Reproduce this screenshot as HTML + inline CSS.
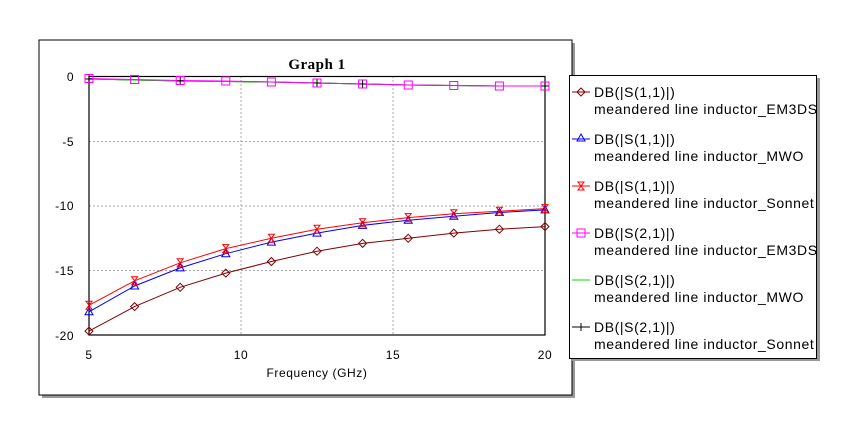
<!DOCTYPE html>
<html><head><style>body{margin:0;background:#fff}svg{display:block}</style></head><body>
<svg width="864" height="439" xmlns="http://www.w3.org/2000/svg" font-family="Liberation Sans, sans-serif">
<rect x="42" y="43" width="533" height="355" fill="#999"/>
<rect x="39" y="40" width="533" height="355" fill="#fff" stroke="#000" stroke-width="1"/>
<text x="317" y="69" font-family="Liberation Serif, serif" font-weight="bold" font-size="15" letter-spacing="0.5" text-anchor="middle">Graph 1</text>
<g stroke="#aaa" stroke-dasharray="2,2" stroke-width="1">
<line x1="241" y1="76" x2="241" y2="335"/><line x1="393" y1="76" x2="393" y2="335"/>
<line x1="89" y1="141.5" x2="545" y2="141.5"/><line x1="89" y1="206" x2="545" y2="206"/><line x1="89" y1="270.5" x2="545" y2="270.5"/>
</g>
<rect x="89" y="76.5" width="456" height="258.5" fill="none" stroke="#000" stroke-width="1.2"/>
<g font-size="12" text-anchor="end" letter-spacing="0.5"><text x="74" y="81">0</text><text x="74" y="146">-5</text><text x="74" y="210">-10</text><text x="74" y="275">-15</text><text x="74" y="340">-20</text></g>
<g font-size="12" text-anchor="middle" letter-spacing="0.6"><text x="89" y="359">5</text><text x="241" y="359">10</text><text x="393" y="359">15</text><text x="545" y="359">20</text>
<text x="317" y="377">Frequency (GHz)</text></g>
<defs>
<path id="dm" d="M0,-4 L4,0 L0,4 L-4,0Z" fill="none" stroke="#800000"/>
<path id="tr" d="M0,-4 L4,3 L-4,3Z" fill="none" stroke="#0000ff"/>
<path id="hg" d="M-3,-4 H3 L-3,4 H3Z" fill="none" stroke="#ff0000"/>
<rect id="sq" x="-4" y="-4" width="8" height="8" fill="none" stroke="#ff00ff"/>
<path id="pl" d="M-4,0 H4 M0,-4 V4" stroke="#000"/>
</defs>
<polyline fill="none" stroke="#000" points="89,79 134.6,80 180.2,81 225.8,81.5 271.4,82 317,83 362.6,84 408.2,85 453.8,85.5 499.4,86 545,86"/>
<polyline fill="none" stroke="#00dd00" points="89,79 134.6,80 180.2,81 225.8,81.5 271.4,82 317,83 362.6,84 408.2,85 453.8,85.5 499.4,86 545,86"/>
<polyline fill="none" stroke="#ff00ff" points="89,78.5 134.6,79.5 180.2,80.5 225.8,81 271.4,82 317,83 362.6,84 408.2,85 453.8,85.5 499.4,86 545,86"/>
<g><use href="#pl" x="89" y="79"/><use href="#pl" x="180.2" y="81"/><use href="#pl" x="362.6" y="84"/><use href="#pl" x="545" y="86"/><use href="#pl" x="317" y="83"/>
<use href="#sq" x="89" y="78.5"/><use href="#sq" x="134.6" y="79.5"/><use href="#sq" x="180.2" y="80.5"/><use href="#sq" x="225.8" y="81"/><use href="#sq" x="271.4" y="82"/><use href="#sq" x="317" y="83"/><use href="#sq" x="362.6" y="84"/><use href="#sq" x="408.2" y="85"/><use href="#sq" x="453.8" y="85.5"/><use href="#sq" x="499.4" y="86"/><use href="#sq" x="545" y="86"/></g>
<polyline fill="none" stroke="#800000" points="89,331.1 134.6,306.6 180.2,287.3 225.8,273.1 271.4,261.5 317,251.2 362.6,243.4 408.2,238.3 453.8,233.1 499.4,229.2 545,226.6"/>
<polyline fill="none" stroke="#0000ff" points="89,311.8 134.6,286 180.2,267.9 225.8,253.7 271.4,242.1 317,233.1 362.6,225.4 408.2,220.2 453.8,216.3 499.4,212.5 545,209.9"/>
<polyline fill="none" stroke="#ff0000" points="89,305.3 134.6,280.8 180.2,262.8 225.8,248.6 271.4,238.3 317,229.2 362.6,222.8 408.2,217.6 453.8,213.7 499.4,211.2 545,208.6"/>
<g>
<use href="#dm" x="89" y="331.1"/><use href="#dm" x="134.6" y="306.6"/><use href="#dm" x="180.2" y="287.3"/><use href="#dm" x="225.8" y="273.1"/><use href="#dm" x="271.4" y="261.5"/><use href="#dm" x="317" y="251.2"/><use href="#dm" x="362.6" y="243.4"/><use href="#dm" x="408.2" y="238.3"/><use href="#dm" x="453.8" y="233.1"/><use href="#dm" x="499.4" y="229.2"/><use href="#dm" x="545" y="226.6"/>
<use href="#tr" x="89" y="311.8"/><use href="#tr" x="134.6" y="286"/><use href="#tr" x="180.2" y="267.9"/><use href="#tr" x="225.8" y="253.7"/><use href="#tr" x="271.4" y="242.1"/><use href="#tr" x="317" y="233.1"/><use href="#tr" x="362.6" y="225.4"/><use href="#tr" x="408.2" y="220.2"/><use href="#tr" x="453.8" y="216.3"/><use href="#tr" x="499.4" y="212.5"/><use href="#tr" x="545" y="209.9"/>
<use href="#hg" x="89" y="305.3"/><use href="#hg" x="134.6" y="280.8"/><use href="#hg" x="180.2" y="262.8"/><use href="#hg" x="225.8" y="248.6"/><use href="#hg" x="271.4" y="238.3"/><use href="#hg" x="317" y="229.2"/><use href="#hg" x="362.6" y="222.8"/><use href="#hg" x="408.2" y="217.6"/><use href="#hg" x="453.8" y="213.7"/><use href="#hg" x="499.4" y="211.2"/><use href="#hg" x="545" y="208.6"/>
</g>
<rect x="572" y="78" width="248" height="283" fill="#999"/>
<rect x="569.5" y="75.5" width="247" height="283" fill="#fff" stroke="#000"/>
<g font-size="14" fill="#000" letter-spacing="0.6">
<line x1="572" y1="92" x2="590" y2="92" stroke="#800000"/><use href="#dm" x="581" y="92"/>
<text x="594" y="97">DB(|S(1,1)|)</text><text x="594" y="114">meandered line inductor_EM3DS</text>
<line x1="572" y1="139" x2="590" y2="139" stroke="#0000ff"/><use href="#tr" x="581" y="138"/>
<text x="594" y="144">DB(|S(1,1)|)</text><text x="594" y="161">meandered line inductor_MWO</text>
<line x1="572" y1="186" x2="590" y2="186" stroke="#ff0000"/><use href="#hg" x="581" y="186"/>
<text x="594" y="191">DB(|S(1,1)|)</text><text x="594" y="208">meandered line inductor_Sonnet</text>
<line x1="572" y1="233" x2="590" y2="233" stroke="#ff00ff"/><use href="#sq" x="581" y="233"/>
<text x="594" y="238">DB(|S(2,1)|)</text><text x="594" y="255">meandered line inductor_EM3DS</text>
<line x1="572" y1="280" x2="590" y2="280" stroke="#00dd00"/>
<text x="594" y="285">DB(|S(2,1)|)</text><text x="594" y="302">meandered line inductor_MWO</text>
<line x1="572" y1="327" x2="590" y2="327" stroke="#000"/><use href="#pl" x="581" y="327"/>
<text x="594" y="332">DB(|S(2,1)|)</text><text x="594" y="349">meandered line inductor_Sonnet</text>
</g>
</svg>
</body></html>
